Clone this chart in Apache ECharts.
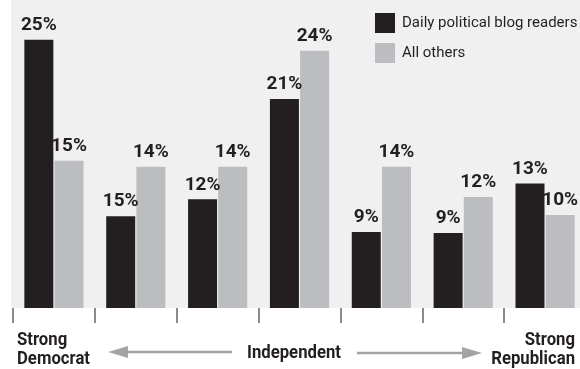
<!DOCTYPE html>
<html>
<head>
<meta charset="utf-8">
<script src="https://cdn.jsdelivr.net/npm/echarts@6/dist/echarts.min.js"></script>
<style>
html, body { margin: 0; padding: 0; background: #fff; overflow: hidden; }
#chart { width: 590px; height: 369px; }
</style>
</head>
<body>
<div id="chart"></div>
<script>
// groups from strong democrat to strong republican
var groups = ['1', '2', '3', '4', '5', '6', '7'];
var seriesNames = ['Daily political blog readers', 'All others'];
// bar heights as drawn (axis baseline is not zero)
var blogValues = [25, 10.4, 11.8, 20.1, 9.1, 9, 13.1];
var otherValues = [15, 14.5, 14.5, 24.1, 14.5, 12, 10.5];
// printed labels on top of bars
var blogLabels = [25, 15, 12, 21, 9, 9, 13];
var otherLabels = [15, 14, 14, 24, 14, 12, 10];
var scaleLabels = ['Strong\nDemocrat', 'Independent', 'Strong\nRepublican'];

var fontName = 'Roboto, sans-serif';
var dark = '#231f20', grey = '#bcbdc0', arrowCol = '#a3a3a3';

// the chart is a bit wider than the window, last group runs off the right edge
var myChart = echarts.init(document.getElementById('chart'));

function barLabel(labels) {
    return {
        show: true,
        position: 'top',
        distance: 5,
        color: dark,
        fontFamily: fontName,
        fontWeight: 'bold',
        fontSize: 19,
        formatter: function (p) { return labels[p.dataIndex] + '%'; }
    };
}

var option = {
    animation: false,
    backgroundColor: '#fff',
    grid: { left: 13, top: 0, width: 573, height: 308 },
    legend: {
        data: seriesNames,
        orient: 'vertical',
        left: 375,
        top: 13,
        padding: 0,
        itemWidth: 20,
        itemHeight: 20,
        itemGap: 10,
        icon: 'rect',
        textStyle: { color: dark, fontFamily: fontName, fontSize: 15, padding: [0, 0, 0, 2] }
    },
    xAxis: {
        type: 'category',
        data: groups,
        axisLine: { show: false },
        axisTick: { show: true, length: 15, lineStyle: { color: '#8c8c8c', width: 2 } },
        axisLabel: { show: false }
    },
    yAxis: {
        type: 'value',
        min: 2.8,
        max: 28.3,
        show: false,
        splitLine: { show: false }
    },
    series: [
        {
            name: seriesNames[0],
            type: 'bar',
            barWidth: 29,
            barGap: '4%',
            itemStyle: { color: dark },
            label: barLabel(blogLabels),
            data: blogValues
        },
        {
            name: seriesNames[1],
            type: 'bar',
            barWidth: 29,
            itemStyle: { color: grey },
            label: barLabel(otherLabels),
            data: otherValues
        }
    ],
    graphic: [
        { type: 'rect', z: -10, shape: { x: 11, y: 0, width: 579, height: 308 }, style: { fill: '#f0f0f0' } },
        {
            type: 'text', x: 17, y: 331, scaleX: 0.88,
            style: { text: scaleLabels[0], fill: dark, font: 'bold 19px ' + fontName, lineHeight: 19 }
        },
        {
            type: 'text', x: 294, y: 353, scaleX: 0.88,
            style: { text: scaleLabels[1], fill: dark, font: 'bold 19px ' + fontName, align: 'center', verticalAlign: 'middle' }
        },
        {
            type: 'text', x: 575, y: 331, scaleX: 0.88,
            style: { text: scaleLabels[2], fill: dark, font: 'bold 19px ' + fontName, align: 'right', lineHeight: 19 }
        },
        // arrows
        { type: 'line', shape: { x1: 126, y1: 352, x2: 232, y2: 352 }, style: { stroke: arrowCol, lineWidth: 2.5 } },
        { type: 'polygon', shape: { points: [[108, 352], [128, 346], [128, 358]] }, style: { fill: arrowCol } },
        { type: 'line', shape: { x1: 357, y1: 353, x2: 464, y2: 353 }, style: { stroke: arrowCol, lineWidth: 2.5 } },
        { type: 'polygon', shape: { points: [[482, 353], [462, 347], [462, 359]] }, style: { fill: arrowCol } }
    ]
};

myChart.setOption(option);
</script>
</body>
</html>
